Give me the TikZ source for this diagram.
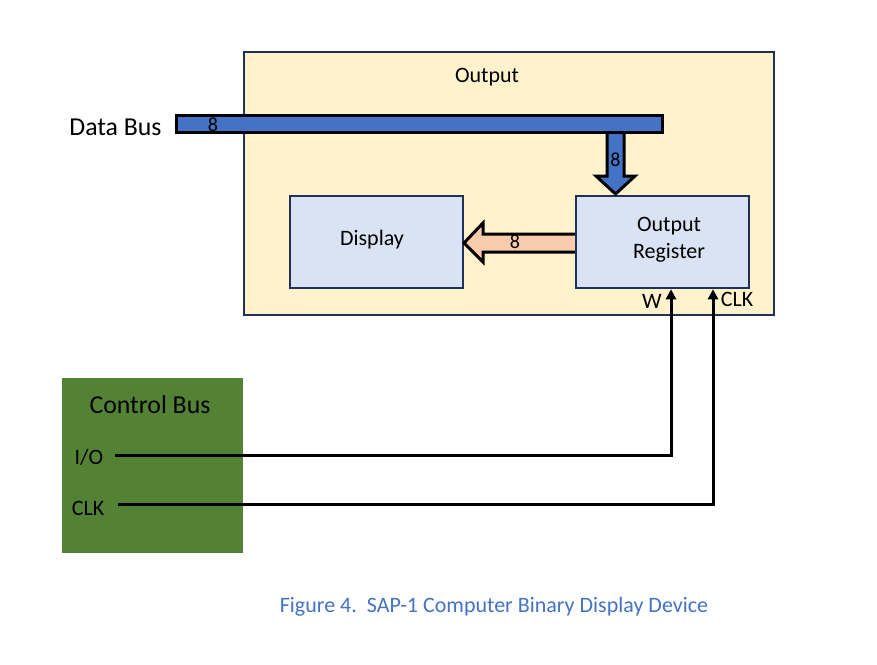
\documentclass[tikz,border=0pt]{standalone}
\usepackage{fontspec}
\setmainfont{Carlito}
\usetikzlibrary{arrows.meta,calc}
\definecolor{navyb}{HTML}{1F3255}
\definecolor{outfill}{HTML}{FFF2CC}
\definecolor{blkfill}{HTML}{DAE3F3}
\definecolor{ctlgreen}{HTML}{548235}
\definecolor{peach}{HTML}{F8CBAD}
\definecolor{busblue}{HTML}{4472C4}
\tikzset{
  outbox/.style={draw=navyb, line width=1.25pt, fill=outfill, inner sep=0pt},
  blkbox/.style={draw=navyb, line width=1.25pt, fill=blkfill, inner sep=0pt, minimum width=86.5pt, minimum height=46pt},
  busbar/.style={draw=black, line width=1.5pt, fill=busblue, inner sep=0pt, minimum width=243pt, minimum height=8.5pt},
  fatarrow/.style={draw=black, line width=1.5pt, line join=miter},
  ctl/.style={draw=black, line width=1.5pt, -{Triangle[length=5pt,width=5pt]}},
  lbl/.style={font=\fontsize{11}{13.5}\selectfont, inner sep=0pt},
  biglbl/.style={font=\fontsize{12.9}{15}\selectfont, inner sep=0pt},
  numlbl/.style={font=\fontsize{10}{11}\selectfont, inner sep=0pt}
}
\begin{document}
\begin{tikzpicture}[x=0.5pt,y=-0.5pt]
\useasboundingbox[fill=white] (0,0) rectangle (877,664);
% output block
\node[outbox, minimum width=265pt, minimum height=131.5pt] (out) at (509,183.5) {};
\node[lbl] (outlbl) at (487,77) {Output};
% blocks
\node[blkbox] (disp) at (376.5,242) {};
\node[lbl] (displbl) at (372,240) {Display};
\node[blkbox] (reg) at (662.5,242) {};
\node[lbl, align=center] (reglbl) at (669,240) {Output\\Register};
% down arrow from bus to register
\draw[fatarrow, fill=busblue] (607,130) -- (607,176) -- (596,176) -- (615.5,194) -- (635,176) -- (624,176) -- (624,130);
\node[numlbl] (n2) at (615.5,160) {8};
% data bus
\node[busbar] (bus) at (419,123.5) {};
\node[numlbl] (n1) at (213,125) {8};
\node[biglbl, anchor=east] (dbl) at (162,127) {Data Bus};
% left arrow register -> display
\draw[fatarrow, fill=peach] (reg.west |- 0,234) -- (483,234) -- (483,223) -- (464,243) -- (483,262) -- (483,252) -- (reg.west |- 0,252);
\node[numlbl] (n3) at (515,242) {8};
% control bus
\node[fill=ctlgreen, inner sep=0pt, minimum width=90.5pt, minimum height=87.5pt] (cb) at (152.5,465.5) {};
\node[biglbl] (cblbl) at (150,405) {Control Bus};
\node[lbl] (io) at (89,457) {I/O};
\node[lbl] (clk) at (88,508) {CLK};
\coordinate (iostart) at (115,455);
\coordinate (clkstart) at (118,504);
\coordinate (wx) at (671,0);
\coordinate (cx) at (713,0);
\draw[ctl] (iostart) -| (wx |- reg.south);
\draw[ctl] (clkstart) -| (cx |- reg.south);
\node[lbl] (wl) at (652,301) {W};
\node[lbl] (cl) at (737,299) {CLK};
% caption
\node[lbl, text=busblue] (cap) at (494,607) {Figure 4.\ \ SAP-1 Computer Binary Display Device};
\end{tikzpicture}
\end{document}
